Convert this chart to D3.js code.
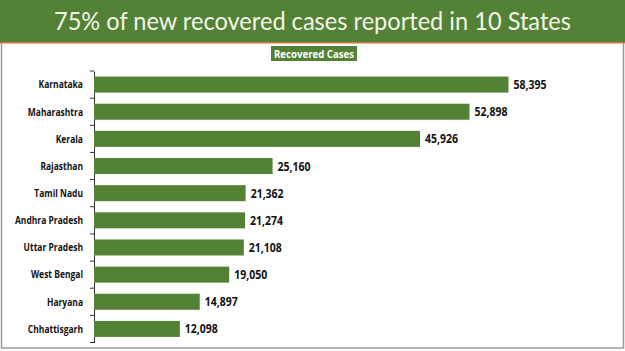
<!DOCTYPE html>
<html><head><meta charset="utf-8">
<script src="https://cdn.jsdelivr.net/npm/d3@7"></script>
<style>html,body{margin:0;padding:0;background:#fff;}svg{display:block;}</style>
</head><body>
<script>
const categories = ["Karnataka","Maharashtra","Kerala","Rajasthan","Tamil Nadu","Andhra Pradesh","Uttar Pradesh","West Bengal","Haryana","Chhattisgarh"];
const recovered = [58395,52898,45926,25160,21362,21274,21108,19050,14897,12098];
const titleText = "75% of new recovered cases reported in 10 States";
const legendLabel = "Recovered Cases";

const W = 625, H = 351;
const svg = d3.select("body").append("svg").attr("width", W).attr("height", H);
const font = "'Open Sans', sans-serif";

// squeeze texts horizontally so a wider font matches the narrower original
function squeeze(sel, factor) {
  sel.each(function() {
    const L = this.getComputedTextLength();
    d3.select(this).attr("textLength", L * factor).attr("lengthAdjust", "spacingAndGlyphs");
  });
}

svg.append("rect").attr("x",1.5).attr("y",40).attr("width",W-3).attr("height",308)
  .attr("fill","#fff").attr("stroke","#9a9a9a").attr("stroke-width",1.5);
svg.append("rect").attr("x",0).attr("y",0).attr("width",W).attr("height",42).attr("fill","#538135");
svg.append("rect").attr("x",0).attr("y",42).attr("width",W).attr("height",1.5).attr("fill","#c9753f");
svg.append("text").attr("x",W/2).attr("y",30).attr("text-anchor","middle")
  .attr("font-family","Lato, 'Open Sans', sans-serif").attr("font-size",25)
  .attr("textLength",517).attr("lengthAdjust","spacingAndGlyphs")
  .attr("fill","#f4f4ea").text(titleText);

const lg = svg.append("g");
lg.append("rect").attr("x",271).attr("y",46).attr("width",86).attr("height",15).attr("fill","#538135");
lg.append("text").attr("x",314).attr("y",57.5).attr("text-anchor","middle")
  .attr("font-family",font).attr("font-weight",700).attr("font-size",10.5)
  .attr("textLength",80).attr("lengthAdjust","spacingAndGlyphs")
  .attr("fill","#fff").text(legendLabel);

const x = d3.scaleLinear().domain([0, 58395]).range([94, 508.5]);
const y = d3.scaleBand().domain(categories).range([71, 342.5]).paddingInner(0.41).paddingOuter(0.205);

const axis = svg.append("g").attr("transform","translate(94,0)")
  .call(d3.axisLeft(y).tickSize(0).tickPadding(11));
axis.select(".domain").attr("stroke","#333");
const catText = axis.selectAll("text").attr("font-family",font).attr("font-weight",700)
  .attr("font-size",10.5).attr("fill","#111").attr("dy","0.36em");
let refLen = 0;
catText.each(function(d){ if (d === "Andhra Pradesh") refLen = this.getComputedTextLength(); });
squeeze(catText, refLen ? 68 / refLen : 0.85);

const bounds = categories.map(c => y(c) - y.step()*y.paddingInner()/2).concat([y(categories[categories.length-1]) + y.bandwidth() + y.step()*y.paddingInner()/2]);
svg.append("g").selectAll("line").data(bounds).join("line")
  .attr("x1",90).attr("x2",94).attr("y1",d=>d).attr("y2",d=>d).attr("stroke","#333");

svg.append("g").selectAll("rect").data(recovered).join("rect")
  .attr("x", x(0)).attr("y", (d,i)=>y(categories[i]))
  .attr("width", d=>x(d)-x(0)).attr("height", y.bandwidth()).attr("fill","#548235");

const valText = svg.append("g").selectAll("text").data(recovered).join("text")
  .attr("x", d=>x(d)+5).attr("y",(d,i)=>y(categories[i])+y.bandwidth()/2+4.5)
  .attr("font-family",font).attr("font-weight",700).attr("font-size",12.5)
  .attr("fill","#111").text(d=>d3.format(",")(d));
let vLen = valText.node().getComputedTextLength();
squeeze(valText, vLen ? 33 / vLen : 0.85);
</script>
</body></html>
